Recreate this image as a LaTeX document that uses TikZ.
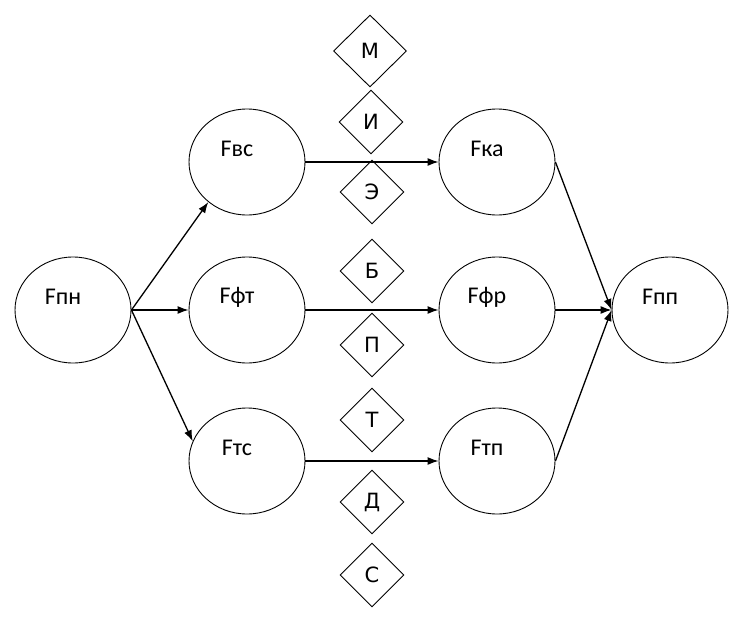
\documentclass[tikz,border=0pt]{standalone}
\usepackage{fontspec}
\setmainfont{Carlito}
\newfontfamily\lettersans{DejaVu Sans}
\usetikzlibrary{shapes.geometric,arrows.meta}

\begin{document}
\begin{tikzpicture}[x=1pt, y=-1pt,
    state/.style={ellipse, draw, line width=0.9pt, minimum width=116pt, minimum height=106pt, inner sep=0pt,
      label={[xshift=-10pt, yshift=13pt, font=\fontsize{24}{28}\selectfont]center:#1}},
    letterbox/.style={diamond, draw, line width=0.9pt, minimum width=64pt, minimum height=64pt, inner sep=0pt,
      font=\lettersans\fontsize{21}{25}\selectfont},
    flow/.style={line width=1.3pt, -{Latex[length=11pt, width=8pt]}}]
  \useasboundingbox (0,0) rectangle (754,618);

  % states
  \node[state=Fпн] (pn) at (73,310) {};
  \node[state=Fвс] (vs) at (247,162) {};
  \node[state=Fфт] (ft) at (247,310) {};
  \node[state=Fтс] (tc) at (247,461) {};
  \node[state=Fка] (ka) at (497,162) {};
  \node[state=Fфр] (fr) at (497,310) {};
  \node[state=Fтп] (tp) at (497,461) {};
  \node[state=Fпп] (pp) at (670,310) {};

  % factors
  \node[letterbox, minimum width=73pt, minimum height=72pt] (m) at (370,51) {М};
  \node[letterbox] (i) at (371,122) {И};
  \node[letterbox] (e) at (372,192) {Э};
  \node[letterbox] (b) at (372,271) {Б};
  \node[letterbox] (p) at (372,345) {П};
  \node[letterbox] (t) at (372,420) {Т};
  \node[letterbox] (d) at (372,502) {Д};
  \node[letterbox] (s) at (372,575) {С};

  \draw[flow] (pn.east) -- (vs.226);
  \draw[flow] (pn.east) -- (ft);
  \draw[flow] (pn.east) -- (tc.160);

  \draw[flow] (vs.east) -- (ka.west);
  \draw[flow] (ft.east) -- (fr.west);
  \draw[flow] (tc.east) -- (tp.west);

  \draw[flow] (ka.east) -- (pp.west);
  \draw[flow] (fr.east) -- (pp.west);
  \draw[flow] (tp.east) -- (pp.west);
\end{tikzpicture}
\end{document}
